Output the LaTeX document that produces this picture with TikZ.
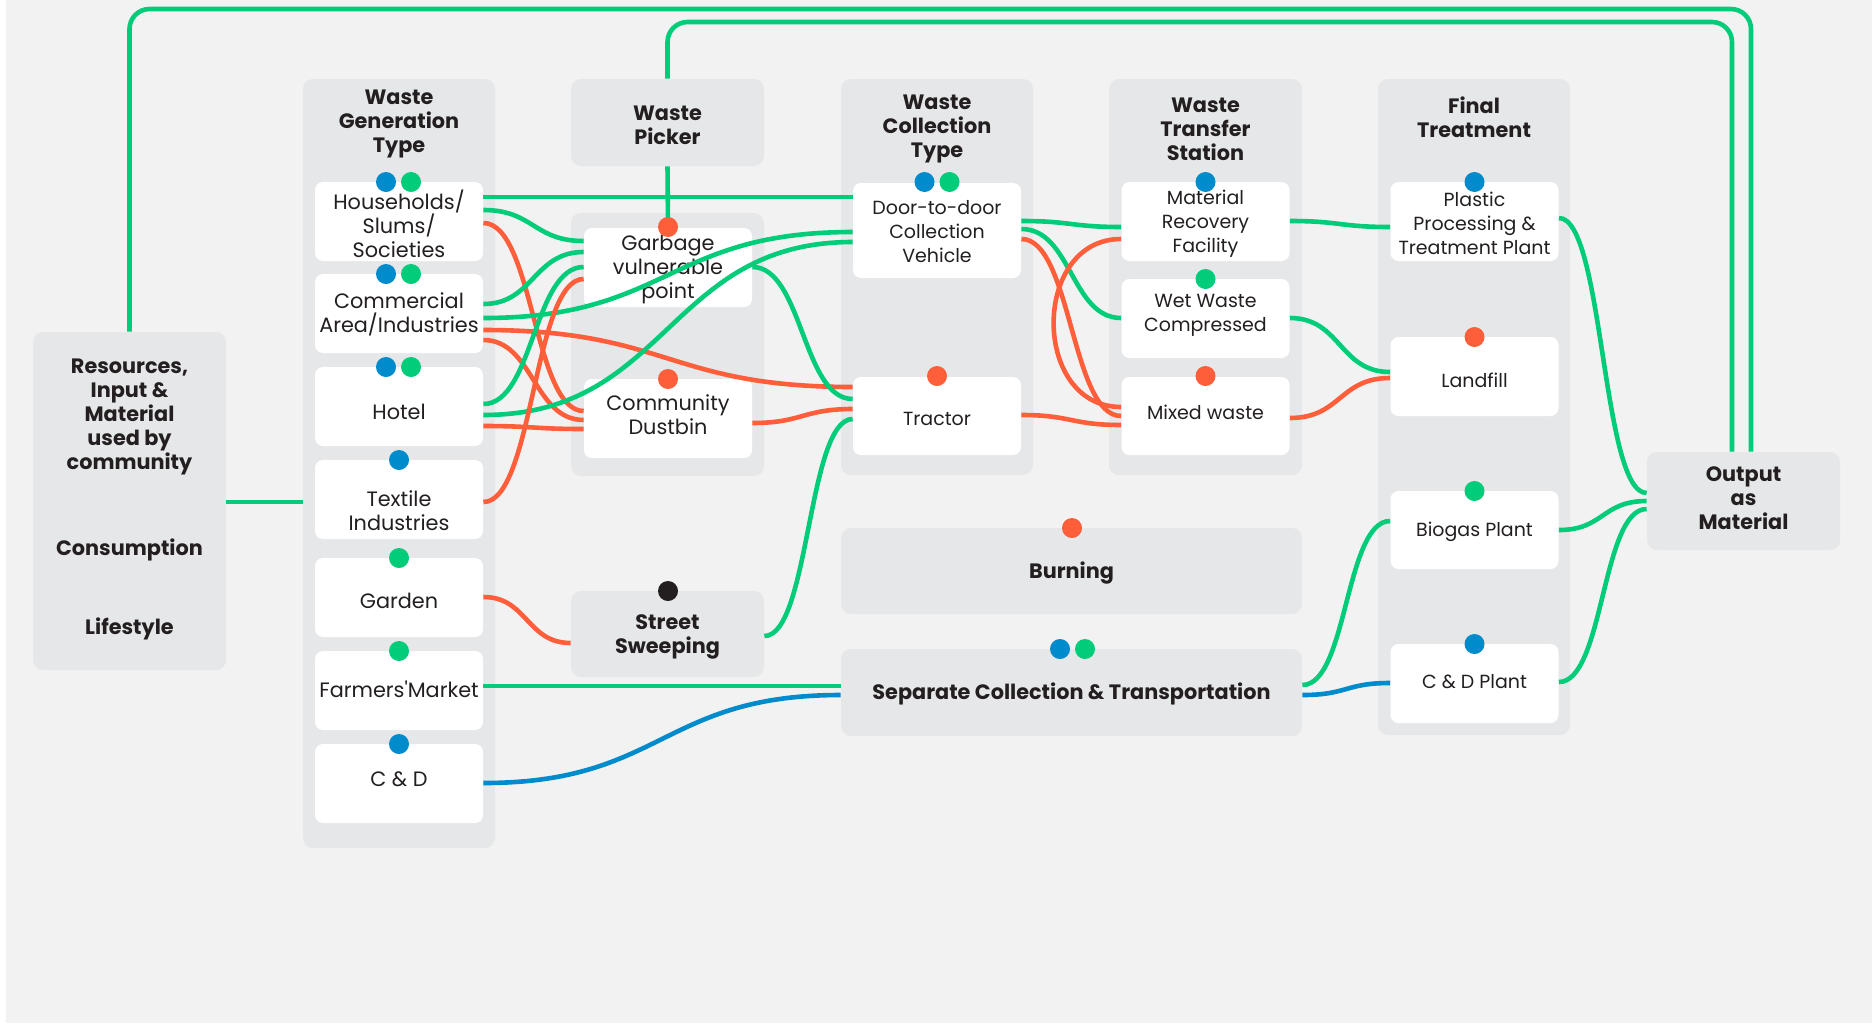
\documentclass[tikz,border=0pt]{standalone}
\usepackage{fontspec}
\setmainfont{Poppins}
\usetikzlibrary{calc}
\definecolor{cgreen}{HTML}{00CC7A}
\definecolor{cred}{HTML}{FF5E3A}
\definecolor{cblue}{HTML}{008BCC}
\definecolor{cdark}{HTML}{231F20}
\definecolor{cgray}{HTML}{E6E7E9}
\definecolor{cbg}{HTML}{F2F2F2}
\newcommand{\flow}[4]{\draw[#1] (#2) .. controls +(#4,0) and +(-#4,0) .. (#3);}
\begin{document}
\begin{tikzpicture}[x=0.5pt,y=-0.5pt,
 col/.style={fill=cgray, rounded corners=5pt, inner sep=0, draw=none},
 wbox/.style={fill=white, rounded corners=4pt, inner sep=0, minimum width=84pt, minimum height=39.5pt},
 txt/.style={font=\fontsize{10.4}{12}\selectfont, text=cdark, align=center, inner sep=0},
 txs/.style={font=\fontsize{9.5}{12}\selectfont, text=cdark, align=center, inner sep=0},
 hdr/.style={font=\fontsize{10.4}{12}\selectfont\bfseries, text=cdark, align=center, inner sep=0},
 gl/.style={draw=cgreen, line width=2.3pt},
 rl/.style={draw=cred, line width=2.3pt},
 bl/.style={draw=cblue, line width=2.3pt},
 dot/.style={circle, minimum size=10pt, inner sep=0, draw=none},
]
\useasboundingbox (0,0) rectangle (1872,1023);
\fill[cbg] (6,0) rectangle (1872,1023);

% columns
\node[col, minimum width=96.5pt, minimum height=169pt] (res) at (129.5,501) {};
\node[col, minimum width=96pt, minimum height=384.5pt] (gencol) at (399,463.5) {};
\node[col, minimum width=96.5pt, minimum height=43.5pt] (pickhead) at (667.5,122.5) {};
\node[col, minimum width=96.5pt, minimum height=131.5pt] (pickcol) at (667.5,344.5) {};
\node[col, minimum width=96pt, minimum height=198pt] (collcol) at (937,277) {};
\node[col, minimum width=96.5pt, minimum height=198pt] (transcol) at (1205.5,277) {};
\node[col, minimum width=96pt, minimum height=328pt] (finalcol) at (1474,407) {};
\node[col, minimum width=96.5pt, minimum height=49pt] (out) at (1743.5,501) {};
\node[col, minimum width=96.5pt, minimum height=43pt] (sweep) at (667.5,634) {};
\node[col, minimum width=230.5pt, minimum height=43pt] (burn) at (1071.5,571) {};
\node[col, minimum width=230.5pt, minimum height=43.5pt] (sep) at (1071.5,692.5) {};

% white boxes
\node[wbox] (hh) at (399,221.5) {};
\node[wbox] (com) at (399,313.5) {};
\node[wbox] (hotel) at (399,406.5) {};
\node[wbox] (tex) at (399,499.5) {};
\node[wbox] (gar) at (399,597.5) {};
\node[wbox] (farm) at (399,690.5) {};
\node[wbox] (cd) at (399,783.5) {};
\node[wbox] (gvp) at (668,267.5) {};
\node[wbox] (dust) at (668,418.5) {};
\node[wbox, minimum height=47.5pt] (door) at (937,230.5) {};
\node[wbox, minimum height=39pt] (trac) at (937,416) {};
\node[wbox] (mrf) at (1205.5,221.5) {};
\node[wbox] (wet) at (1205.5,318.5) {};
\node[wbox, minimum height=39pt] (mix) at (1205.5,416) {};
\node[wbox] (plas) at (1474.5,221.5) {};
\node[wbox] (land) at (1474.5,376.5) {};
\node[wbox, minimum height=39pt] (bio) at (1474.5,530) {};
\node[wbox] (cdp) at (1474.5,683.5) {};

% headers and texts
\node[hdr] (t-gen) at (399,124) {Waste\\Generation\\Type};
\node[hdr] (t-pick) at (667.5,125) {Waste\\Picker};
\node[hdr] (t-coll) at (937,129) {Waste\\Collection\\Type};
\node[hdr] (t-trans) at (1205.5,129) {Waste\\Transfer\\Station};
\node[hdr] (t-final) at (1474,117) {Final\\Treatment};
\node[hdr] (t-res) at (129.5,417) {Resources,\\Input \&\\Material\\used by\\community};
\node[hdr] (t-cons) at (129.5,550) {Consumption};
\node[hdr] (t-life) at (129.5,629) {Lifestyle};
\node[hdr] (t-out) at (1743.5,498) {Output\\as\\Material};
\node[hdr] (t-sweep) at (667.5,637) {Street\\Sweeping};
\node[hdr] (t-burn) at (1071.5,573) {Burning};
\node[hdr] (t-sep) at (1071.5,694) {Separate Collection \& Transportation};

\node[txt] (t-hh) at (399,224) {Households/\\Slums/\\Societies};
\node[txt] (t-com) at (399,314) {Commercial\\Area/Industries};
\node[txt] (t-hotel) at (399,412) {Hotel};
\node[txt] (t-tex) at (399,511) {Textile\\Industries};
\node[txt] (t-gar) at (399,601) {Garden};
\node[txt] (t-farm) at (399,689) {Farmers\textquotesingle Market};
\node[txt] (t-cd) at (399,779) {C \& D};
\node[txt] (t-gvp) at (668,270) {Garbage\\vulnerable\\point};
\node[txt] (t-dust) at (668,414.5) {Community\\Dustbin};
\node[txs] (t-door) at (937,232) {Door-to-door\\Collection\\Vehicle};
\node[txs] (t-trac) at (937,419) {Tractor};
\node[txs] (t-mrf) at (1205.5,224) {Material\\Recovery\\Facility};
\node[txs] (t-wet) at (1205.5,315) {Wet Waste\\Compressed};
\node[txs] (t-mix) at (1205.5,412) {Mixed waste};
\node[txs] (t-plas) at (1474.5,223) {Plastic\\Processing \&\\Treatment Plant};
\node[txs] (t-land) at (1474.5,380) {Landfill};
\node[txs] (t-bio) at (1474.5,532) {Biogas Plant};
\node[txs] (t-cdp) at (1474.5,682) {C \& D Plant};

% connectors
\draw[gl, rounded corners=10pt] (res.north) -- (129.5,9) -- (1751,9) -- (1751,0 |- out.north);
\draw[gl, rounded corners=10pt] (1732,0 |- out.north) -- (1732,22) -- (667.5,22) -- (pickhead.north);
\draw[gl] (pickhead.south) -- (gvp.north);
\draw[gl] (res.east |- 0,502) -- (gencol.west |- 0,502);

\draw[gl] (hh.east |- 0,197) -- (door.west |- 0,197);
\flow{gl}{hh.east |- 0,210}{gvp.west |- 0,241}{50}
\flow{rl}{hh.east |- 0,223}{dust.west |- 0,411}{50}
\flow{gl}{com.east |- 0,304}{gvp.west |- 0,252}{50}
\flow{gl}{com.east |- 0,318}{door.west |- 0,232}{185}
\flow{rl}{com.east |- 0,330}{trac.west |- 0,387}{185}
\flow{rl}{com.east |- 0,340}{dust.west |- 0,420}{50}
\flow{gl}{hotel.east |- 0,404}{gvp.west |- 0,267}{50}
\flow{gl}{hotel.east |- 0,415}{door.west |- 0,242}{185}
\flow{rl}{hotel.east |- 0,426}{dust.west |- 0,429}{50}
\flow{rl}{tex.east |- 0,502}{gvp.west |- 0,279}{50}
\flow{rl}{gar.east |- 0,597}{sweep.west |- 0,643}{44}
\draw[gl] (farm.east |- 0,686) -- (sep.west |- 0,686);
\flow{bl}{cd.east |- 0,783}{sep.west |- 0,695}{179}

\flow{gl}{gvp.east |- 0,267}{trac.west |- 0,399}{50}
\flow{rl}{dust.east |- 0,423}{trac.west |- 0,409}{50}
\flow{gl}{sweep.east |- 0,636}{trac.west |- 0,419}{45}

\flow{gl}{door.east |- 0,221}{mrf.west |- 0,227}{50}
\flow{gl}{door.east |- 0,229}{wet.west |- 0,318}{50}
\flow{rl}{door.east |- 0,239}{mix.west |- 0,416}{50}
\flow{rl}{trac.east |- 0,415}{mix.west |- 0,425}{50}
\draw[rl] (mrf.west |- 0,239) .. controls +(-90,0) and +(-90,0) .. (mix.west |- 0,407);

\flow{gl}{mrf.east |- 0,221}{plas.west |- 0,227}{51}
\flow{gl}{wet.east |- 0,318}{land.west |- 0,372}{51}
\flow{rl}{mix.east |- 0,418}{land.west |- 0,378}{51}
\flow{gl}{sep.east |- 0,685}{bio.west |- 0,521}{45}
\flow{bl}{sep.east |- 0,695}{cdp.west |- 0,683}{45}

\flow{gl}{plas.east |- 0,218}{out.west |- 0,493}{45}
\flow{gl}{bio.east |- 0,530}{out.west |- 0,501}{45}
\flow{gl}{cdp.east |- 0,682}{out.west |- 0,509}{45}

% dots
\node[dot, fill=cblue] (d-hh1) at (386,182) {};
\node[dot, fill=cgreen] (d-hh2) at (411,182) {};
\node[dot, fill=cblue] (d-com1) at (386,274) {};
\node[dot, fill=cgreen] (d-com2) at (411,274) {};
\node[dot, fill=cblue] (d-hot1) at (386,367) {};
\node[dot, fill=cgreen] (d-hot2) at (411,367) {};
\node[dot, fill=cblue] (d-tex) at (399,460) {};
\node[dot, fill=cgreen] (d-gar) at (399,558) {};
\node[dot, fill=cgreen] (d-farm) at (399,651) {};
\node[dot, fill=cblue] (d-cd) at (399,744) {};
\node[dot, fill=cred] (d-gvp) at (668,227) {};
\node[dot, fill=cred] (d-dust) at (668,379) {};
\node[dot, fill=cdark] (d-sweep) at (668,591) {};
\node[dot, fill=cblue] (d-door1) at (924.5,182) {};
\node[dot, fill=cgreen] (d-door2) at (949.5,182) {};
\node[dot, fill=cred] (d-trac) at (937,376) {};
\node[dot, fill=cblue] (d-mrf) at (1205.5,182) {};
\node[dot, fill=cgreen] (d-wet) at (1205.5,279) {};
\node[dot, fill=cred] (d-mix) at (1205.5,376) {};
\node[dot, fill=cblue] (d-plas) at (1474.5,182) {};
\node[dot, fill=cred] (d-land) at (1474.5,337) {};
\node[dot, fill=cgreen] (d-bio) at (1474.5,491) {};
\node[dot, fill=cblue] (d-cdp) at (1474.5,644) {};
\node[dot, fill=cred] (d-burn) at (1072,528) {};
\node[dot, fill=cblue] (d-sep1) at (1060,649) {};
\node[dot, fill=cgreen] (d-sep2) at (1085,649) {};
\end{tikzpicture}
\end{document}
